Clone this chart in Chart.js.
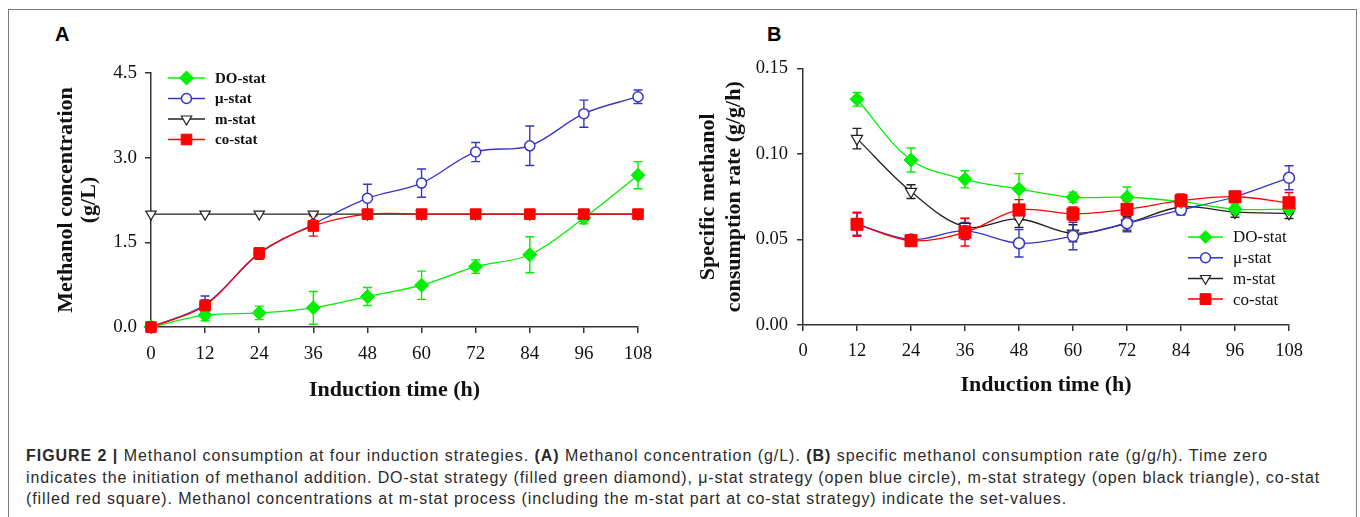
<!DOCTYPE html>
<html>
<head>
<meta charset="utf-8">
<script src="https://cdn.jsdelivr.net/npm/chart.js@4.4.1/dist/chart.umd.min.js"></script>
<style>
body{margin:0;background:#fff;width:1360px;height:517px;overflow:hidden;position:relative;}
#frame{position:absolute;left:8px;top:9px;width:1349px;height:560px;border:1.5px solid #7a7a7a;box-sizing:border-box;}
#ca{position:absolute;left:0;top:0;}
#cb{position:absolute;left:690px;top:0;}
.pl{position:absolute;font:bold 20px "Liberation Sans",Arial,sans-serif;color:#000;}
#cap{position:absolute;left:26px;top:445px;font:16px "Liberation Sans",Arial,sans-serif;line-height:21.5px;color:#2a2a2a;white-space:nowrap;}
#cap span{display:inline-block;}
#cap b{font-weight:bold;}
</style>
</head>
<body>
<div id="frame"></div>
<div class="pl" style="left:55px;top:23px;">A</div>
<div class="pl" style="left:767px;top:23px;">B</div>
<canvas id="ca" width="690" height="420"></canvas>
<canvas id="cb" width="670" height="420"></canvas>
<div id="cap">
<span data-w="1242"><b>FIGURE 2 |</b> Methanol consumption at four induction strategies. <b>(A)</b> Methanol concentration (g/L). <b>(B)</b> specific methanol consumption rate (g/g/h). Time zero</span><br>
<span data-w="1294">indicates the initiation of methanol addition. DO-stat strategy (filled green diamond), μ-stat strategy (open blue circle), m-stat strategy (open black triangle), co-stat</span><br>
<span data-w="1041">(filled red square). Methanol concentrations at m-stat process (including the m-stat part at co-stat strategy) indicate the set-values.</span>
</div>
<script>
//数据
var seriesNames=['DO-stat','μ-stat','m-stat','co-stat'];
var hoursA=[0,12,24,36,48,60,72,84,96,108];
var hoursB=[12,24,36,48,60,72,84,96,108];
var xTicks=[0,12,24,36,48,60,72,84,96,108];
var yTicksA=[0,1.5,3,4.5];
var yTicksB=[0,0.05,0.10,0.15];

//A: methanol concentration (g/L)
var doConc=[0,0.21,0.25,0.34,0.54,0.74,1.07,1.28,1.93,2.69];
var doConcErr=[0,0.1,0.12,0.29,0.16,0.25,0.12,0.32,0.1,0.24];
var muConc=[0,0.4,1.3,1.82,2.28,2.55,3.1,3.21,3.78,4.08];
var muConcErr=[0.08,0.15,0.1,0.05,0.25,0.25,0.17,0.35,0.24,0.12];
var mConc=[2,2,2,2,2,2,2,2,2,2];
var mConcErr=[0,0,0,0,0,0,0,0,0,0];
var coConc=[0,0.38,1.31,1.79,2,2,2,2,2,2];
var coConcErr=[0,0.1,0.08,0.18,0,0,0,0,0,0];

//B: specific methanol consumption rate (g/g/h)
var doRate=[0.132,0.0965,0.0852,0.0795,0.0747,0.0747,0.0721,0.0678,0.0678];
var doRateErr=[0.004,0.007,0.005,0.009,0.003,0.006,0.004,0.003,0.003];
var muRate=[0.059,0.050,0.055,0.0478,0.052,0.0595,0.0673,0.075,0.0861];
var muRateErr=[0.0065,0.002,0.005,0.008,0.008,0.005,0.003,0.003,0.007];
var mRate=[0.109,0.078,0.0575,0.062,0.0536,0.0595,0.069,0.066,0.0653];
var mRateErr=[0.006,0.004,0.005,0.005,0.005,0.004,0.004,0.003,0.003];
var coRate=[0.0589,0.0493,0.0542,0.0673,0.065,0.0677,0.0727,0.075,0.0715];
var coRateErr=[0.007,0.003,0.008,0.006,0.004,0.005,0.004,0.003,0.006];

var SERIF='"Liberation Serif","Times New Roman",serif';
var GREEN='#00f000', BLUE='#3535c8', BLACK='#222222', RED='#ff0000';

//图注每行撑到原图的宽度
var capLines=document.querySelectorAll('#cap span');
for(var k=0;k<capLines.length;k++){
	var sp=capLines[k];
	var w=sp.getBoundingClientRect().width;
	var n=sp.textContent.length;
	sp.style.letterSpacing=((Number(sp.getAttribute('data-w'))-w)/n)+'px';
}

//x,y 配对
function pts(xs,ys){
	var out=[];
	for(var i=0;i<xs.length;i++){ out.push({x:xs[i],y:ys[i]}); }
	return out;
}

//误差线, 画在点的下面
var errorBars={
	id:'errorBars',
	beforeDatasetsDraw:function(chart){
		var ctx=chart.ctx, xs=chart.scales.x, ys=chart.scales.y;
		chart.data.datasets.forEach(function(ds){
			if(!ds.err) return;
			ctx.save();
			ctx.strokeStyle=ds.borderColor;
			ctx.lineWidth=1.4;
			ds.data.forEach(function(p,j){
				var e=ds.err[j];
				if(!e) return;
				var x=xs.getPixelForValue(p.x);
				var y1=ys.getPixelForValue(p.y+e), y2=ys.getPixelForValue(p.y-e);
				ctx.beginPath();
				ctx.moveTo(x,y1); ctx.lineTo(x,y2);
				ctx.moveTo(x-4.5,y1); ctx.lineTo(x+4.5,y1);
				ctx.moveTo(x-4.5,y2); ctx.lineTo(x+4.5,y2);
				ctx.stroke();
			});
			ctx.restore();
		});
	}
};

//手画图例
var boxLegend={
	id:'boxLegend',
	afterDraw:function(chart){
		var o=chart.options.plugins.boxLegend;
		var ctx=chart.ctx;
		var ds=chart.data.datasets.slice().sort(function(a,b){return a.legendIndex-b.legendIndex;});
		ds.forEach(function(d,i){
			var y=o.y+i*o.dy;
			ctx.save();
			ctx.strokeStyle=d.borderColor;
			ctx.lineWidth=1.5;
			ctx.beginPath(); ctx.moveTo(o.x,y); ctx.lineTo(o.x+o.len,y); ctx.stroke();
			ctx.fillStyle=d.pointBackgroundColor;
			ctx.strokeStyle=d.pointBorderColor;
			ctx.lineWidth=d.pointBorderWidth;
			Chart.helpers.drawPoint(ctx,{pointStyle:d.pointStyle,radius:d.pointRadius*o.scale,rotation:d.pointRotation||0,borderWidth:d.pointBorderWidth},o.x+o.len/2,y);
			ctx.fillStyle='#111';
			ctx.font=o.font;
			ctx.textBaseline='middle';
			ctx.fillText(d.label,o.x+o.len+o.gap,y+1);
			ctx.restore();
		});
	}
};

function makeSets(xs,vals,errs,r){
	return [
		{label:seriesNames[2],legendIndex:2,order:4,clip:false,data:pts(xs,vals[2]),err:errs[2],borderColor:BLACK,borderWidth:1.3,
		 pointStyle:'triangle',pointRotation:180,pointRadius:r.tri,pointBackgroundColor:'#fff',pointBorderColor:BLACK,pointBorderWidth:1.2},
		{label:seriesNames[1],legendIndex:1,order:3,clip:false,data:pts(xs,vals[1]),err:errs[1],borderColor:BLUE,borderWidth:1.3,
		 pointStyle:'circle',pointRadius:r.circ,pointBackgroundColor:'#fff',pointBorderColor:BLUE,pointBorderWidth:1.5},
		{label:seriesNames[0],legendIndex:0,order:2,clip:false,data:pts(xs,vals[0]),err:errs[0],borderColor:GREEN,borderWidth:1.3,
		 pointStyle:'rectRot',pointRadius:r.dia,pointBackgroundColor:GREEN,pointBorderColor:GREEN,pointBorderWidth:1},
		{label:seriesNames[3],legendIndex:3,order:1,clip:false,data:pts(xs,vals[3]),err:errs[3],borderColor:RED,borderWidth:1.3,
		 pointStyle:'rect',pointRadius:r.sq,pointBackgroundColor:RED,pointBorderColor:RED,pointBorderWidth:1}
	];
}

function makeScales(cfg){
	return {
		x:{type:'linear',min:0,max:108,
			afterBuildTicks:function(s){ s.ticks=xTicks.map(function(v){return {value:v};}); },
			afterFit:function(s){ s.height=80; s.paddingLeft=0; s.paddingRight=0; },
			grid:{drawOnChartArea:false,drawTicks:true,tickLength:6,color:'#333',lineWidth:1.5},
			border:{color:'#333',width:1.5},
			ticks:{color:'#111',font:{family:SERIF,size:cfg.tickSize},padding:cfg.xPad,maxRotation:0,autoSkip:false},
			title:{display:true,text:'Induction time (h)',color:'#111',font:{family:SERIF,size:22,weight:'bold',lineHeight:1.2},padding:{top:0,bottom:cfg.xTitlePad}}
		},
		y:{type:'linear',min:cfg.ymin,max:cfg.ymax,
			afterBuildTicks:function(s){ s.ticks=cfg.yTicks.map(function(v){return {value:v};}); },
			afterFit:function(s){ s.width=cfg.yWidth; s.paddingTop=0; s.paddingBottom=0; },
			grid:{drawOnChartArea:false,drawTicks:true,tickLength:6,color:'#333',lineWidth:1.5},
			border:{color:'#333',width:1.5},
			ticks:{color:'#111',font:{family:SERIF,size:cfg.tickSize},padding:cfg.yPad,autoSkip:false,
				callback:function(v){ return Number(v).toFixed(cfg.dec); }},
			title:{display:true,text:cfg.yTitle,color:'#111',font:{family:SERIF,size:22,weight:'bold',lineHeight:cfg.yLH},padding:{top:cfg.yTitlePad,bottom:0}}
		}
	};
}

//A图
new Chart(document.getElementById('ca').getContext('2d'),{
	type:'line',
	data:{datasets:makeSets(hoursA,[doConc,muConc,mConc,coConc],[doConcErr,muConcErr,mConcErr,coConcErr],{tri:6,circ:5,dia:7,sq:7.5})},
	options:{
		responsive:false,animation:false,events:[],
		elements:{line:{tension:0.35,fill:false}},
		layout:{padding:{left:0,top:73,right:52,bottom:13}},
		plugins:{legend:{display:false},tooltip:{enabled:false},
			boxLegend:{x:168,y:78,dy:20.5,len:37,gap:10,scale:1,font:'bold 15px '+SERIF}},
		scales:makeScales({tickSize:19,xPad:9.5,xTitlePad:3.8,ymin:0,ymax:4.5,yTicks:yTicksA,yWidth:151,yPad:8,dec:1,
			yTitle:['Methanol concentration','(g/L)'],yLH:1.045,yTitlePad:54.5})
	},
	plugins:[errorBars,boxLegend]
});

//B图
new Chart(document.getElementById('cb').getContext('2d'),{
	type:'line',
	data:{datasets:makeSets(hoursB,[doRate,muRate,mRate,coRate],[doRateErr,muRateErr,mRateErr,coRateErr],{tri:6.5,circ:5.5,dia:7,sq:8.5})},
	options:{
		responsive:false,animation:false,events:[],
		elements:{line:{tension:0.35,fill:false}},
		layout:{padding:{left:0,top:68.5,right:71,bottom:15}},
		plugins:{legend:{display:false},tooltip:{enabled:false},
			boxLegend:{x:498,y:237,dy:20.7,len:35,gap:10,scale:0.9,font:'17px '+SERIF}},
		scales:makeScales({tickSize:18.5,xPad:9.5,xTitlePad:6.8,ymin:0,ymax:0.15,yTicks:yTicksB,yWidth:113,yPad:9,dec:2,
			yTitle:['Specific methanol','consumption rate (g/g/h)'],yLH:1.18,yTitlePad:5})
	},
	plugins:[errorBars,boxLegend]
});
</script>
</body>
</html>
